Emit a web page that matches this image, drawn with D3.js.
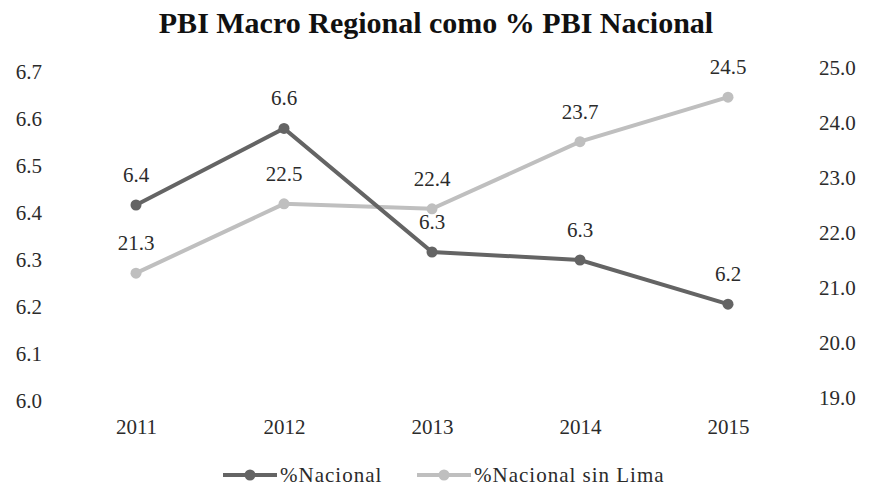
<!DOCTYPE html>
<html lang="es">
<head>
<meta charset="UTF-8">
<title>PBI Macro Regional como % PBI Nacional</title>
<script src="https://d3js.org/d3.v7.min.js"></script>
<style>
    body { margin: 0; background: #fff; }
</style>
</head>
<body>
<svg id="chart" width="870" height="490"></svg>
<script>
// data
const years = ["2011", "2012", "2013", "2014", "2015"];
const nacional = [6.417, 6.58, 6.317, 6.30, 6.206];
const sinLima = [21.27, 22.53, 22.44, 23.66, 24.47];
const nacionalLabels = ["6.4", "6.6", "6.3", "6.3", "6.2"];
const sinLimaLabels = ["21.3", "22.5", "22.4", "23.7", "24.5"];
const leftTicks = [6.0, 6.1, 6.2, 6.3, 6.4, 6.5, 6.6, 6.7];
const rightTicks = [19, 20, 21, 22, 23, 24, 25];

const serif = "'Liberation Serif', 'DejaVu Serif', serif";
const textColor = "#2b2b2b";

const svg = d3.select("#chart");

const x = d3.scalePoint().domain(years).range([136, 728]);
const yL = d3.scaleLinear().domain([6.0, 6.7]).range([401, 72]);
const yR = d3.scaleLinear().domain([19, 25]).range([398, 68]);

svg.append("text")
    .attr("x", 436).attr("y", 33)
    .attr("text-anchor", "middle")
    .style("font-family", serif)
    .style("font-size", "30px").style("font-weight", "bold").style("fill", "#111")
    .text("PBI Macro Regional como % PBI Nacional");

// axes: labels only
const leftAxis = svg.append("g")
    .attr("transform", "translate(42,0)")
    .call(d3.axisLeft(yL).tickValues(leftTicks).tickSize(0).tickFormat(d3.format(".1f")));
const rightAxis = svg.append("g")
    .attr("transform", "translate(819,0)")
    .call(d3.axisRight(yR).tickValues(rightTicks).tickSize(0).tickFormat(d3.format(".1f")));
const bottomAxis = svg.append("g")
    .attr("transform", "translate(0,0)")
    .call(d3.axisBottom(x).tickSize(0));
[leftAxis, rightAxis, bottomAxis].forEach(a => {
    a.attr("font-family", null).attr("font-size", null);
    a.select(".domain").remove();
    a.selectAll("text")
        .style("font-family", serif)
        .style("font-size", "21px")
        .style("fill", textColor);
});
leftAxis.selectAll("text").attr("x", 0).attr("dy", "0.32em");
rightAxis.selectAll("text").attr("x", 0).attr("dy", "0.32em");
bottomAxis.selectAll("text").attr("y", 434).attr("dy", 0);

const series = [
    { name: "%Nacional", values: nacional, labels: nacionalLabels, y: yL, color: "#646464" },
    { name: "%Nacional sin Lima", values: sinLima, labels: sinLimaLabels, y: yR, color: "#bfbfbf" }
];

// draw light series first so the dark line sits on top
[series[1], series[0]].forEach(s => {
    const pts = years.map((yr, i) => ({ yr, v: s.values[i], label: s.labels[i] }));
    const line = d3.line().x(d => x(d.yr)).y(d => s.y(d.v));
    const g = svg.append("g");
    g.append("path")
        .datum(pts)
        .attr("d", line)
        .attr("fill", "none")
        .attr("stroke", s.color)
        .attr("stroke-width", 4);
    g.selectAll("circle")
        .data(pts)
        .enter().append("circle")
        .attr("cx", d => x(d.yr))
        .attr("cy", d => s.y(d.v))
        .attr("r", 5.5)
        .attr("fill", s.color);
    g.selectAll("text.lbl")
        .data(pts)
        .enter().append("text")
        .attr("class", "lbl")
        .attr("x", d => x(d.yr))
        .attr("y", d => s.y(d.v) - 23)
        .attr("text-anchor", "middle")
        .style("font-family", serif)
        .style("font-size", "21px")
        .style("fill", textColor)
        .text(d => d.label);
});

// legend
const legend = svg.append("g").attr("transform", "translate(0,475)");
const legendX = [223, 417];
series.forEach((s, i) => {
    const lg = legend.append("g").attr("transform", `translate(${legendX[i]},0)`);
    lg.append("line").attr("x1", 0).attr("x2", 54).attr("y1", 0).attr("y2", 0)
        .attr("stroke", s.color).attr("stroke-width", 4);
    lg.append("circle").attr("cx", 27).attr("cy", 0).attr("r", 5.5).attr("fill", s.color);
    lg.append("text").attr("x", 57).attr("y", 0).attr("dy", "0.35em")
        .style("font-family", serif)
        .style("font-size", "21px")
        .style("letter-spacing", "1px")
        .style("fill", textColor)
        .text(s.name);
});
</script>
</body>
</html>
